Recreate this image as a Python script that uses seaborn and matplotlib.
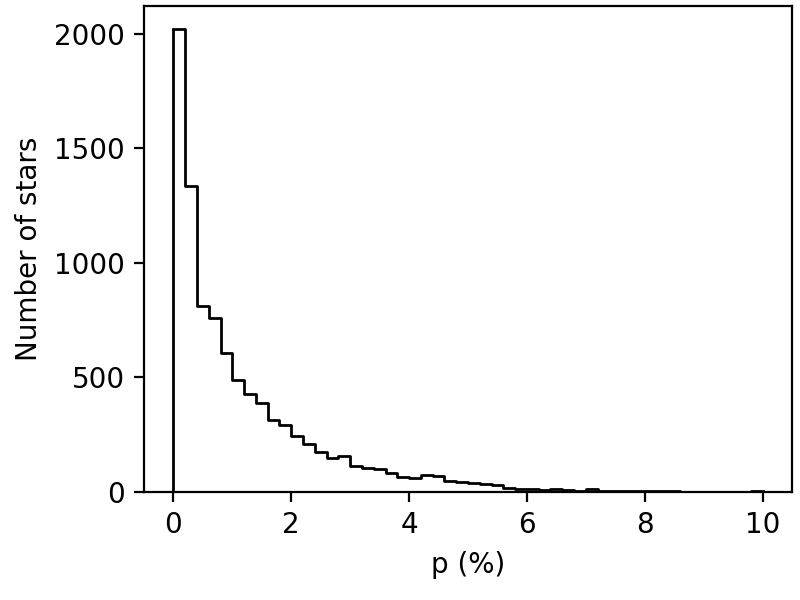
import pandas as pd
import seaborn as sns
from matplotlib import pyplot as plt
from matplotlib.ticker import MultipleLocator

# bin edges (p in %), 0.2 wide from 0 to 10
bin_edges = [round(0.2 * i, 1) for i in range(51)]

# number of stars per bin
counts = [2020, 1336, 812, 758, 606, 489, 428, 387, 314, 293,
          245, 210, 176, 147, 157, 114, 103, 99, 84, 64,
          60, 74, 68, 49, 44, 38, 33, 32, 17, 12,
          12, 10, 14, 9, 6, 14, 6, 5, 5, 4,
          4, 4, 3, 1, 1, 1, 0, 0, 1, 3]

df = pd.DataFrame({
    "p": [(a + b) / 2 for a, b in zip(bin_edges[:-1], bin_edges[1:])],
    "n": counts,
})

fig, ax = plt.subplots(figsize=(4, 3), dpi=200)
sns.histplot(data=df, x="p", weights="n", bins=bin_edges,
             element="step", fill=False, color="black", linewidth=1, ax=ax)
# outer edges of the step outline, like histtype='step'
ax.vlines([bin_edges[0], bin_edges[-1]], 0, [counts[0], counts[-1]],
          color="black", linewidth=1)
ax.set_xlabel("p (%)")
ax.set_ylabel("Number of stars")
ax.set_xlim(-0.5, 10.5)
ax.set_ylim(0, max(counts) * 1.05)
ax.yaxis.set_major_locator(MultipleLocator(500))
fig.subplots_adjust(left=0.18, right=0.99, top=0.99, bottom=0.18)
plt.savefig("out.png")
